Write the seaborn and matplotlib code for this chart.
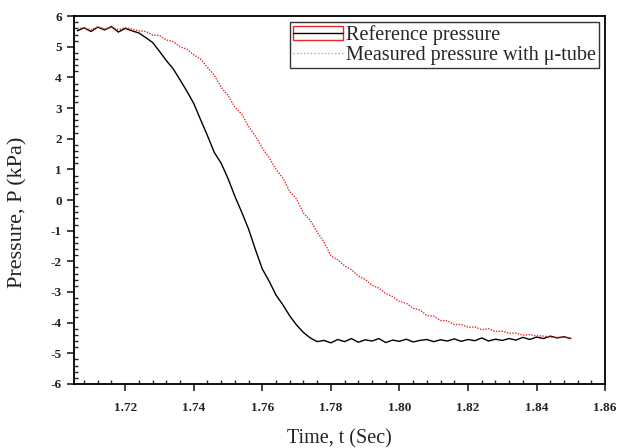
import numpy as np
import pandas as pd
import matplotlib
matplotlib.use("Agg")
import matplotlib.pyplot as plt
import seaborn as sns
from matplotlib.ticker import MultipleLocator, FormatStrFormatter
from matplotlib.patches import Patch
from matplotlib.lines import Line2D

time = [1.706, 1.708, 1.710, 1.712, 1.714, 1.716, 1.718, 1.720, 1.722, 1.724,
        1.726, 1.728, 1.730, 1.732, 1.734, 1.736, 1.738, 1.740, 1.742, 1.744,
        1.746, 1.748, 1.750, 1.752, 1.754, 1.756, 1.758, 1.760, 1.762, 1.764,
        1.766, 1.768, 1.770, 1.772, 1.774, 1.776, 1.778, 1.780, 1.782, 1.784,
        1.786, 1.788, 1.790, 1.792, 1.794, 1.796, 1.798, 1.800, 1.802, 1.804,
        1.806, 1.808, 1.810, 1.812, 1.814, 1.816, 1.818, 1.820, 1.822, 1.824,
        1.826, 1.828, 1.830, 1.832, 1.834, 1.836, 1.838, 1.840, 1.842, 1.844,
        1.846, 1.848, 1.850]

reference_pressure = [5.52, 5.62, 5.50, 5.64, 5.55, 5.66, 5.48, 5.60, 5.52, 5.45,
                      5.30, 5.14, 4.85, 4.55, 4.28, 3.92, 3.55, 3.15, 2.62, 2.10,
                      1.55, 1.20, 0.70, 0.12, -0.40, -0.95, -1.62, -2.25, -2.65, -3.10,
                      -3.42, -3.78, -4.08, -4.32, -4.50, -4.62, -4.58, -4.66, -4.55, -4.62,
                      -4.52, -4.64, -4.56, -4.60, -4.52, -4.65, -4.57, -4.61, -4.54, -4.63,
                      -4.58, -4.55, -4.62, -4.56, -4.60, -4.53, -4.61, -4.55, -4.59, -4.50,
                      -4.60, -4.54, -4.58, -4.52, -4.57, -4.48, -4.55, -4.47, -4.52, -4.44,
                      -4.50, -4.46, -4.52]

measured_pressure = [5.58, 5.62, 5.55, 5.65, 5.58, 5.63, 5.56, 5.62, 5.58, 5.52,
                     5.50, 5.38, 5.37, 5.22, 5.17, 5.00, 4.92, 4.74, 4.60, 4.33,
                     4.07, 3.68, 3.41, 3.03, 2.80, 2.40, 2.08, 1.70, 1.38, 1.00,
                     0.71, 0.28, 0.03, -0.42, -0.67, -1.04, -1.37, -1.82, -1.95, -2.15,
                     -2.27, -2.48, -2.59, -2.78, -2.87, -3.05, -3.15, -3.31, -3.37, -3.53,
                     -3.59, -3.77, -3.79, -3.93, -3.94, -4.06, -4.06, -4.15, -4.14, -4.23,
                     -4.20, -4.29, -4.28, -4.35, -4.34, -4.41, -4.39, -4.43, -4.44, -4.47,
                     -4.48, -4.47, -4.51]

labels = ["Reference pressure", "Measured pressure with \u03bc-tube"]

df = pd.DataFrame({
    "t": time * 2,
    "P": reference_pressure + measured_pressure,
    "series": [labels[0]] * len(time) + [labels[1]] * len(time),
})

sns.set_style("ticks")
plt.rcParams["font.family"] = ["Liberation Serif", "DejaVu Serif"]

fig = plt.figure(figsize=(6.2, 4.48), dpi=100)
ax = fig.add_axes([0.119, 0.143, 0.857, 0.821])

sns.lineplot(data=df, x="t", y="P", hue="series", style="series",
             palette={labels[0]: "black", labels[1]: "#e8262a"},
             dashes={labels[0]: "", labels[1]: (1, 1)},
             linewidth=1.0, ax=ax, legend=False)

ax.set_xlim(1.705, 1.86)
ax.set_ylim(-6, 6)
ax.xaxis.set_major_locator(MultipleLocator(0.02))
ax.xaxis.set_minor_locator(MultipleLocator(0.004))
ax.yaxis.set_major_locator(MultipleLocator(1))
ax.yaxis.set_minor_locator(MultipleLocator(0.2))
ax.xaxis.set_major_formatter(FormatStrFormatter("%.2f"))
ax.yaxis.set_major_formatter(FormatStrFormatter("%d"))

ax.tick_params(which="major", direction="out", length=5, width=1.2, labelsize=9.5, colors="#222222")
ax.tick_params(which="minor", direction="in", length=3, width=1.0)
ax.tick_params(axis="x", pad=8)
for lab in ax.get_xticklabels() + ax.get_yticklabels():
    lab.set_fontweight("bold")

for s in ax.spines.values():
    s.set_linewidth(1.3)
    s.set_color("black")

ax.set_xlabel("Time, t (Sec)", fontsize=14.5, labelpad=11, color="#222222")
ax.set_ylabel("Pressure, P (kPa)", fontsize=16, color="#222222")
ax.yaxis.set_label_coords(-0.087, 0.467)

h_ref = (Patch(facecolor="white", edgecolor="#e8262a", linewidth=1.0),
         Line2D([], [], color="black", linewidth=1.0))
h_meas = Line2D([], [], color="#c0a0a0", linewidth=1.0, linestyle=(0, (1, 1.5)))
leg = ax.legend([h_ref, h_meas], labels, loc="upper right", fontsize=14.5,
                frameon=True, fancybox=False, edgecolor="#333333", framealpha=1,
                handlelength=2.5, handletextpad=0.15, borderpad=0.15,
                labelspacing=0.05, borderaxespad=0.3)
leg.get_frame().set_linewidth(1.0)

fig.savefig("out.png", dpi=100)
